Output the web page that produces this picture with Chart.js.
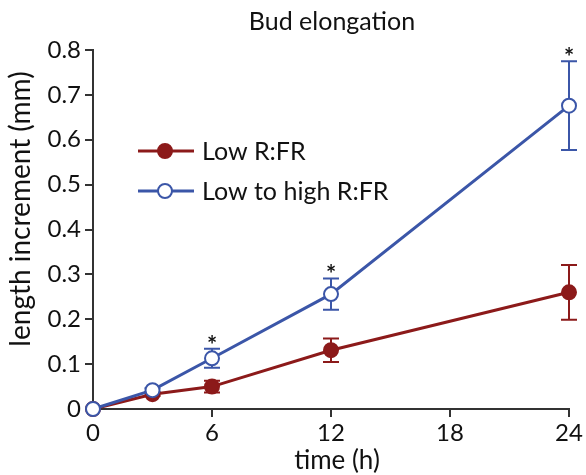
<!DOCTYPE html>
<html>
<head>
<meta charset="utf-8">
<script src="https://cdn.jsdelivr.net/npm/chart.js@4/dist/chart.umd.min.js"></script>
<style>
html,body{margin:0;padding:0;background:#fff;}
#wrap{width:586px;height:475px;position:relative;}
</style>
</head>
<body>
<div id="wrap"><canvas id="c" width="586" height="475"></canvas></div>
<script>
const times = [0, 3, 6, 12, 24];
const xTicks = [0, 6, 12, 18, 24];
const yTicks = [0, 0.1, 0.2, 0.3, 0.4, 0.5, 0.6, 0.7, 0.8];
const seriesNames = ['Low R:FR', 'Low to high R:FR'];
const lowRFR = [0, 0.033, 0.050, 0.131, 0.260];
const lowRFRErr = [0, 0.004, 0.013, 0.026, 0.061];
const lowToHigh = [0, 0.042, 0.113, 0.256, 0.676];
const lowToHighErr = [0, 0.004, 0.021, 0.035, 0.099];
const significant = [false, false, true, true, true];

const RED = '#8c1a1a';
const BLUE = '#3b56a8';
const FONT = 'Lato, "Open Sans", sans-serif';

const toPts = (vals) => times.map((t, i) => ({x: t, y: vals[i]}));

const errs = [lowRFRErr, lowToHighErr];

const extras = {
  id: 'extras',
  beforeDatasetsDraw(chart) {
    const ctx = chart.ctx;
    const xs = chart.scales.x, ys = chart.scales.y;
    chart.data.datasets.forEach((ds, di) => {
      ctx.save();
      ctx.strokeStyle = ds.borderColor;
      ctx.lineWidth = 2;
      ds.data.forEach((p, i) => {
        const e = errs[di][i];
        if (!e) return;
        const x = xs.getPixelForValue(p.x);
        const yt = ys.getPixelForValue(p.y + e);
        const yb = ys.getPixelForValue(p.y - e);
        ctx.beginPath();
        ctx.moveTo(x, yt); ctx.lineTo(x, yb);
        ctx.moveTo(x - 8, yt); ctx.lineTo(x + 8, yt);
        ctx.moveTo(x - 8, yb); ctx.lineTo(x + 8, yb);
        ctx.stroke();
      });
      ctx.restore();
    });
  },
  afterDraw(chart) {
    const ctx = chart.ctx;
    const xs = chart.scales.x, ys = chart.scales.y;
    ctx.save();
    // asterisks
    ctx.fillStyle = '#111';
    ctx.font = 'bold 24px ' + FONT;
    ctx.textAlign = 'center';
    ctx.textBaseline = 'alphabetic';
    times.forEach((t, i) => {
      if (!significant[i]) return;
      const x = xs.getPixelForValue(t);
      const y = ys.getPixelForValue(lowToHigh[i] + lowToHighErr[i]);
      ctx.fillText('*', x, y + 5);
    });
    ctx.textBaseline = 'middle';
    // title
    ctx.font = '25px ' + FONT;
    ctx.fillText('Bud elongation', 332, 22);
    // x title
    ctx.font = '26px ' + FONT;
    ctx.fillText('time (h)', 337, 461);
    // y title
    ctx.save();
    ctx.translate(21, 209);
    ctx.rotate(-Math.PI / 2);
    ctx.font = '28px ' + FONT;
    ctx.fillText('length increment (mm)', 0, 0);
    ctx.restore();
    // legend
    const legY = [151, 191];
    chart.data.datasets.forEach((ds, di) => {
      const y = legY[di];
      ctx.strokeStyle = ds.borderColor;
      ctx.lineWidth = 3;
      ctx.beginPath();
      ctx.moveTo(138, y); ctx.lineTo(194, y);
      ctx.stroke();
      ctx.beginPath();
      ctx.arc(165, y, 7, 0, Math.PI * 2);
      ctx.fillStyle = ds.pointBackgroundColor;
      ctx.fill();
      ctx.lineWidth = 2;
      ctx.stroke();
      ctx.fillStyle = '#111';
      ctx.textAlign = 'left';
      ctx.font = '25px ' + FONT;
      ctx.fillText(ds.label, 202, y + 1);
    });
    ctx.restore();
  }
};

new Chart(document.getElementById('c'), {
  type: 'scatter',
  data: {
    datasets: [
      {
        label: seriesNames[0],
        data: toPts(lowRFR),
        showLine: true,
        borderColor: RED,
        backgroundColor: RED,
        pointBackgroundColor: RED,
        pointBorderColor: RED,
        borderWidth: 3,
        pointRadius: 7,
        pointBorderWidth: 2,
        clip: false,
        order: 2
      },
      {
        label: seriesNames[1],
        data: toPts(lowToHigh),
        showLine: true,
        borderColor: BLUE,
        backgroundColor: '#fff',
        pointBackgroundColor: '#fff',
        pointBorderColor: BLUE,
        borderWidth: 3,
        pointRadius: 7,
        pointBorderWidth: 2,
        clip: false,
        order: 1
      }
    ]
  },
  options: {
    responsive: false,
    animation: false,
    events: [],
    layout: {padding: {top: 50, right: 17, left: 0, bottom: 0}},
    plugins: {legend: {display: false}, title: {display: false}, tooltip: {enabled: false}},
    scales: {
      x: {
        type: 'linear',
        min: 0, max: 24,
        afterFit(s) { s.height = 66; },
        afterBuildTicks(s) { s.ticks = xTicks.map(v => ({value: v})); },
        grid: {drawOnChartArea: false, drawTicks: true, tickLength: 8, color: '#333', lineWidth: 2},
        border: {display: true, color: '#333', width: 2},
        ticks: {color: '#111', font: {family: FONT, size: 24}, padding: 2, maxRotation: 0}
      },
      y: {
        type: 'linear',
        min: 0, max: 0.8,
        afterFit(s) { s.width = 93; },
        afterBuildTicks(s) { s.ticks = yTicks.map(v => ({value: v})); },
        grid: {drawOnChartArea: false, drawTicks: true, tickLength: 8, color: '#333', lineWidth: 2},
        border: {display: true, color: '#333', width: 2},
        ticks: {color: '#111', font: {family: FONT, size: 24}, padding: 4,
          callback: (v) => v === 0 ? '0' : v.toFixed(1)}
      }
    }
  },
  plugins: [extras]
});
</script>
</body>
</html>
